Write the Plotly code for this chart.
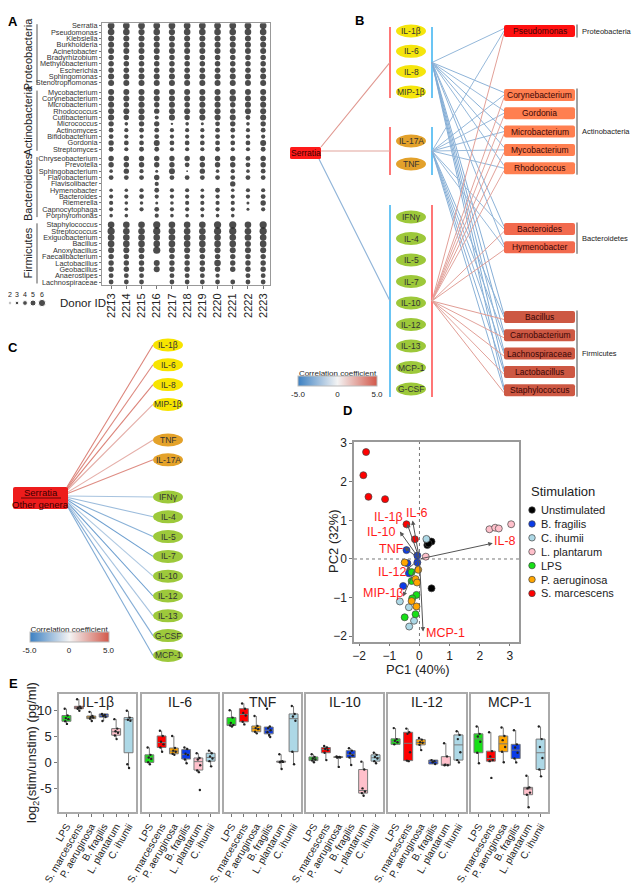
import plotly.graph_objects as go

W, H = 640, 887          # browser window
OFF = 8                  # page body margin of the browser
FW, FH = W - OFF, H - OFF
FONT = "Liberation Sans, Arial, sans-serif"
TXT = "#222222"


def px(x):
    return (x - OFF) / FW


def py(y):
    return 1 - (y - OFF) / FH


# ------------------------------------------------------------------ Panel A data
donors = ["2213", "2214", "2215", "2216", "2217", "2218", "2219", "2220", "2221", "2222", "2223"]
phyla_a = ["Proteobacteria", "Actinobacteria", "Bacteroidetes", "Firmicutes"]
genera_proteobacteria = ["Serratia", "Pseudomonas", "Klebsiella", "Burkholderia", "Acinetobacter",
                         "Bradyrhizobium", "Methylobacterium", "Escherichia", "Sphingomonas", "Stenotrophomonas"]
genera_actinobacteria = ["Mycobacterium", "Corynebacterium", "Microbacterium", "Rhodococcus", "Cutibacterium",
                         "Micrococcus", "Actinomyces", "Bifidobacterium", "Gordonia", "Streptomyces"]
genera_bacteroidetes = ["Chryseobacterium", "Prevotella", "Sphingobacterium", "Flavobacterium", "Flavisolibacter",
                        "Hymenobacter", "Bacteroides", "Riemerella", "Capnocytophaga", "Porphyromonas"]
genera_firmicutes = ["Staphylococcus", "Streptococcus", "Exiguobacterium", "Bacillus", "Anoxybacillus",
                     "Faecalibacterium", "Lactobacillus", "Geobacillus", "Anaerostipes", "Lachnospiraceae"]
N = None
abund_proteobacteria = [
    [5.6, 5.6, 5.6, 5.6, 5.6, 5.6, 5.6, 5.6, 5.6, 5.6, 5.6],
    [5.5, 5.5, 5.2, 5.5, 5.2, 5.5, 5.5, 5.5, 5.5, 5.5, 5.5],
    [5.0, 5.0, 5.0, 5.0, 5.0, 5.0, 5.0, 5.0, 5.0, 5.0, 5.0],
    [5.0, 5.0, 4.8, 5.0, 4.8, 5.0, 5.0, 5.0, 5.0, 5.0, 5.0],
    [5.0, 5.0, 5.0, 5.0, 5.0, 5.0, 5.0, 5.0, 5.0, 5.0, 5.0],
    [4.6, 4.6, 4.6, 4.6, 4.6, 4.6, 4.6, 4.6, 4.6, 4.6, 4.6],
    [4.6, 4.6, 4.6, 4.6, 4.6, 4.6, 4.6, 4.6, 4.6, 4.6, 4.6],
    [4.6, 4.6, 4.6, 4.6, 4.6, 4.6, 4.6, 4.6, 4.6, 4.6, 4.6],
    [5.0, 5.0, 5.0, 5.0, 5.0, 5.0, 5.0, 5.0, 5.0, 5.0, 5.0],
    [5.0, 5.0, 5.0, 5.0, 5.0, 5.0, 5.0, 5.0, 5.0, 5.0, 5.0],
]
abund_actinobacteria = [
    [5.0, 5.0, 5.0, 5.0, 5.0, 5.0, 5.0, 5.0, 5.0, 5.0, 5.0],
    [5.0, 5.0, 5.0, 5.0, 5.0, 5.0, 5.0, 5.0, 5.4, 5.0, 5.0],
    [5.0, 4.5, 5.0, 4.5, 5.0, 4.5, 5.0, 5.0, 4.5, 5.0, 5.0],
    [5.0, 5.0, 5.0, 4.5, 5.0, 5.0, 5.0, 5.0, 4.5, 5.0, 5.0],
    [5.0, 4.5, 5.0, 3.5, 5.0, 4.5, 5.0, 5.0, 5.0, 4.0, 5.0],
    [4.5, 3.0, 4.5, 4.5, 2.0, 3.0, 2.5, 4.0, 4.5, 3.0, 4.5],
    [4.0, 3.5, 4.0, 4.0, 3.5, 3.5, 3.5, 4.0, 4.0, 3.5, 4.0],
    [4.0, 3.5, 3.5, 4.0, 3.5, 3.5, 3.5, 4.0, 3.5, 3.5, 3.5],
    [4.5, 4.0, 4.0, 5.0, 4.0, 4.0, 4.0, 4.0, 4.0, 4.0, 5.0],
    [4.0, 3.5, 4.0, 4.0, 3.5, 3.5, 3.5, 4.0, 3.5, 3.5, 4.0],
]
abund_bacteroidetes = [
    [4.5, 4.5, 4.5, 4.5, 4.5, 4.5, 4.5, 4.5, 4.5, 4.0, 4.5],
    [4.5, 4.5, 4.5, 4.5, 4.5, 4.0, 4.5, 4.5, 4.5, 4.0, 4.5],
    [3.0, 4.5, 3.5, 2.5, 5.0, 1.5, 4.5, 3.0, 3.5, 3.0, 4.0],
    [4.0, 4.0, 4.0, 4.5, 4.0, 4.0, 4.0, 4.0, 4.0, 4.0, 4.0],
    [N, N, N, 3.5, N, N, N, N, 4.5, N, N],
    [3.0, 3.0, 3.5, 4.0, 3.5, 3.5, 3.0, 4.0, 3.0, 3.5, 3.5],
    [3.5, 3.5, 4.0, 3.5, 3.5, 3.5, 3.5, 3.5, 3.5, 3.5, 4.0],
    [3.5, 3.0, 3.0, 2.5, 3.0, 3.5, 3.5, 3.5, 3.5, 2.5, 4.5],
    [3.5, 3.0, 3.5, 4.0, 3.5, 3.5, 3.5, 3.5, 3.5, 2.5, 3.5],
    [3.0, 3.0, N, 3.5, 3.0, 3.0, 3.0, 3.0, 3.0, N, N],
]
abund_firmicutes = [
    [5.5, 5.5, 5.5, 6.0, 5.5, 5.5, 5.5, 6.0, 6.0, 5.5, 6.0],
    [6.0, 5.5, 5.5, 6.0, 5.5, 5.5, 5.5, 6.0, 6.0, 5.5, 6.0],
    [5.5, 5.5, 5.5, 5.5, 5.5, 5.5, 5.5, 5.5, 5.5, 5.5, 5.5],
    [5.5, 5.5, 5.5, 5.5, 5.5, 5.5, 5.5, 5.5, 5.5, 5.0, 5.5],
    [5.0, 5.0, 5.0, 6.0, 5.0, 5.0, 5.0, 5.0, 5.0, 5.0, 5.0],
    [4.5, 4.5, 4.5, N, 4.5, 4.5, 4.5, 4.5, 4.5, 4.5, 4.5],
    [4.5, 4.5, 4.5, 5.0, 4.5, 4.5, 4.5, 5.5, 4.5, 4.5, 4.5],
    [4.5, 4.5, 4.5, 5.0, 4.5, 4.5, 4.5, 4.5, 4.5, 4.5, 4.5],
    [4.0, 4.0, 4.0, N, 4.0, 4.0, 4.0, 3.5, N, 4.0, 4.0],
    [4.0, 4.0, 4.0, N, 4.0, 4.0, 4.0, 4.0, 4.0, 4.0, 4.0],
]
size_legend_values = [2, 3, 4, 5, 6]

# ------------------------------------------------------------------ Panel B data
b_cyt_yellow = ["IL-1β", "IL-6", "IL-8", "MIP-1β"]
b_cyt_orange = ["IL-17A", "TNF"]
b_cyt_green = ["IFNγ", "IL-4", "IL-5", "IL-7", "IL-10", "IL-12", "IL-13", "MCP-1", "G-CSF"]
b_serratia_corr = [3.0, 2.6, -2.8]          # Serratia -> cytokine group
b_bacteria = ["Pseudomonas", "Corynebacterium", "Gordonia", "Microbacterium", "Mycobacterium", "Rhodococcus",
              "Bacteroides", "Hymenobacter",
              "Bacillus", "Carnobacterium", "Lachnospiraceae", "Lactobacillus", "Staphylococcus"]
b_bacteria_phylum = ["Proteobacteria", "Actinobacteria", "Actinobacteria", "Actinobacteria", "Actinobacteria",
                     "Actinobacteria", "Bacteroidetes", "Bacteroidetes",
                     "Firmicutes", "Firmicutes", "Firmicutes", "Firmicutes", "Firmicutes"]
b_corr_yellow = [-2.6, -2.8, -2.5, -2.9, -2.7, -2.6, -2.8, -2.7, -3.0, -3.1, -2.9, -3.2, -3.0]
b_corr_orange = [-2.5, -2.6, -2.4, -2.7, -2.5, -2.6, -2.6, -2.5, -2.9, -2.8, -2.8, -3.0, -2.9]
b_corr_green = [2.7, 2.6, 2.5, 2.6, 2.7, 2.5, 2.6, 2.7, 2.8, 2.6, 2.7, 2.6, 2.8]

# ------------------------------------------------------------------ Panel C data
c_cytokines = ["IL-1β", "IL-6", "IL-8", "MIP-1β", "TNF", "IL-17A",
               "IFNγ", "IL-4", "IL-5", "IL-7", "IL-10", "IL-12", "IL-13", "G-CSF", "MCP-1"]
c_cyt_class = ["y", "y", "y", "y", "o", "o", "g", "g", "g", "g", "g", "g", "g", "g", "g"]
c_corr = [3.6, 3.4, 3.6, 2.3, 2.2, 3.3, -2.1, -2.4, -2.9, -3.7, -1.9, -3.7, -2.1, -3.0, -3.1]

# ------------------------------------------------------------------ Panel D data
stim_groups = ["Unstimulated", "B. fragilis", "C. ihumii", "L. plantarum", "LPS", "P. aeruginosa", "S. marcescens"]
stim_colors = ["#000000", "#0a3be8", "#add8e6", "#ffc0cb", "#17e017", "#ffa500", "#ff0000"]
pc1_unstimulated = [0.25, 0.34, 0.40, 0.26, 0.30, 0.40]
pc2_unstimulated = [0.49, 0.45, 0.45, 0.36, 0.40, -0.76]
pc1_bfragilis = [-0.43, -0.07, -0.40, -0.07, -0.35, -0.54]
pc2_bfragilis = [0.23, 0.09, -0.11, -0.09, -0.37, -0.70]
pc1_cihumii = [0.23, -0.65, -0.35, -0.34, -0.18]
pc2_cihumii = [0.52, -1.10, -1.25, -1.75, -1.60]
pc1_lplantarum = [2.32, 2.51, 2.63, 3.04, 0.21]
pc2_lplantarum = [0.77, 0.81, 0.79, 0.90, 0.06]
pc1_lps = [-0.26, -0.26, -0.10, -0.24, -0.13, -0.49]
pc2_lps = [-0.34, -0.57, -0.93, -1.02, -1.43, -1.51]
pc1_paeruginosa = [-0.49, -0.04, -0.13, -0.08, -0.26, -0.10]
pc2_paeruginosa = [-0.09, -0.28, -0.52, -0.61, -1.09, -1.23]
pc1_smarcescens = [-1.77, -1.86, -1.69, -1.14, -0.43, -0.15]
pc2_smarcescens = [2.77, 2.17, 1.61, 1.55, 0.90, 0.51]
loading_names = ["IL-6", "IL-1β", "IL-10", "TNF", "IL-8", "IL-12", "MIP-1β", "MCP-1"]
loading_pc1 = [-0.23, -0.41, -0.65, -0.50, 2.43, -0.45, -0.54, 0.12]
loading_pc2 = [1.00, 0.92, 0.71, 0.30, 0.41, -0.30, -0.97, -1.88]
loading_label_pc1 = [-0.08, -1.02, -1.25, -0.93, 2.83, -0.90, -1.20, 0.86]
loading_label_pc2 = [1.20, 1.08, 0.70, 0.26, 0.46, -0.33, -0.88, -1.91]

# ------------------------------------------------------------------ Panel E data
e_cytokines = ["IL-1β", "IL-6", "TNF", "IL-10", "IL-12", "MCP-1"]
e_stims = ["LPS", "S. marcescens", "P. aeruginosa", "B. fragilis", "L. plantarum", "C. ihumii"]
e_colors = ["#17e017", "#ff0000", "#ffa500", "#0a3be8", "#ffc0cb", "#add8e6"]
e_lower = [
    [7.4, 9.9, 7.95, 7.95, 4.5, -1.0],
    [-0.3, 2.1, 1.5, -0.1, -1.8, -0.7],
    [6.9, 7.3, 5.6, 4.9, -1.2, -0.3],
    [0.1, 0.5, -0.8, -0.45, -6.3, -0.1],
    [3.5, 0.3, 2.4, -0.25, -0.5, 0.06],
    [-0.1, 0.3, 0.1, 0.06, -8.5, -2.6],
]
e_q1 = [
    [7.9, 10.3, 8.4, 8.7, 5.25, 1.9],
    [0.06, 2.9, 1.7, 0.7, -1.4, 0.3],
    [7.1, 7.8, 5.9, 5.5, 0.1, 2.1],
    [0.4, 1.9, 1.0, 1.0, -5.8, 0.3],
    [3.5, 0.4, 3.4, -0.25, -0.5, 0.5],
    [1.9, 0.3, 2.1, 0.8, -6.1, -1.3],
]
e_median = [
    [8.4, 10.5, 8.65, 9.0, 5.9, 8.2],
    [0.9, 3.85, 2.2, 1.6, 0.2, 1.0],
    [7.3, 9.2, 6.5, 6.2, 0.2, 8.4],
    [0.7, 2.5, 1.05, 1.6, -5.3, 0.95],
    [4.0, 3.7, 3.85, 0.2, -0.45, 3.4],
    [4.55, 0.8, 3.6, 2.4, -5.0, 1.9],
]
e_q3 = [
    [9.0, 10.75, 8.9, 9.3, 6.5, 8.6],
    [1.5, 5.1, 2.8, 2.5, 0.9, 1.8],
    [8.6, 10.3, 7.0, 6.8, 0.3, 9.3],
    [1.1, 2.9, 1.15, 2.3, -1.3, 1.5],
    [4.55, 5.8, 4.4, 0.5, 1.15, 5.3],
    [5.5, 2.2, 5.1, 3.5, -4.7, 4.5],
]
e_upper = [
    [10.3, 12.1, 9.7, 9.3, 8.3, 9.9],
    [2.9, 6.1, 5.1, 2.9, 1.8, 2.3],
    [10.0, 11.3, 8.9, 6.9, 1.6, 10.8],
    [1.6, 3.2, 1.2, 2.75, 0.2, 1.9],
    [6.6, 6.5, 4.7, 0.5, 3.7, 6.0],
    [6.9, 5.8, 6.7, 6.2, -2.5, 6.9],
]
e_points = [
    [[10.3, 9.0, 8.5, 8.3, 7.9, 7.4], [12.1, 10.7, 10.5, 10.4, 10.3, 9.9], [9.7, 8.9, 8.7, 8.6, 8.4, 7.95],
     [9.3, 9.1, 8.9, 8.7, 7.95], [8.3, 6.5, 6.0, 5.7, 5.2, 4.5], [9.9, 8.6, 8.2, 8.0, -0.3, -1.0]],
    [[2.9, 1.5, 1.0, 0.7, 0.1, -0.3], [6.1, 5.1, 4.0, 3.5, 2.9, 2.1], [5.1, 2.8, 2.3, 2.1, 1.7, 1.5],
     [2.9, 2.6, 1.7, 1.5, 0.6, -0.1], [1.8, 0.9, 0.6, -0.5, -1.5, -1.8, -5.2], [2.3, 1.8, 1.2, 0.8, 0.3, -0.7]],
    [[10.0, 8.6, 7.6, 7.2, 7.1, 6.9], [11.3, 10.3, 9.5, 9.0, 7.8, 7.3], [8.9, 7.0, 6.6, 6.4, 5.9, 5.6],
     [10.3, 6.9, 6.6, 6.2, 5.8, 5.3, 4.9], [1.6, 0.3, 0.2, 0.15, 0.1, -1.2], [10.8, 9.3, 8.8, 8.0, 2.1, -0.3]],
    [[1.6, 1.1, 0.8, 0.6, 0.4, 0.1], [3.2, 2.9, 2.6, 2.4, 1.9, 0.5], [1.2, 1.1, 1.05, 1.0, 1.0, -0.8],
     [2.75, 2.3, 1.8, 1.4, 1.0, -0.45], [0.2, -1.3, -4.9, -5.5, -5.8, -6.3], [1.9, 1.5, 1.1, 0.8, 0.3, -0.1]],
    [[6.6, 4.5, 4.2, 3.9, 3.5], [6.5, 5.8, 5.5, 2.0, 0.4, 0.3], [4.7, 4.4, 3.9, 3.8, 3.4, 2.4],
     [0.5, 0.3, 0.1, -0.25], [3.7, 1.2, -0.4, -0.5, -0.5], [6.0, 5.3, 4.5, 2.0, 0.5, 0.06]],
    [[6.9, 5.5, 5.0, 4.0, 1.9, -0.1], [5.8, 2.2, 1.2, 0.5, 0.3, -2.9], [6.7, 5.1, 4.3, 3.0, 2.1, 0.1],
     [6.2, 3.5, 2.9, 1.9, 0.8, 0.06], [-2.5, -4.7, -4.9, -5.7, -6.1, -8.5], [6.9, 4.5, 3.0, 0.9, -1.3, -2.6]],
]
jitter_offsets = [-0.14, 0.09, -0.05, 0.15, -0.1, 0.04, 0.12]

# ------------------------------------------------------------------ helpers
CORR_SCALE = [[0.0, "#3c80c2"], [0.5, "#f4f4f4"], [1.0, "#d2584a"]]


def hex2rgb(h):
    h = h.lstrip("#")
    return tuple(int(h[i:i + 2], 16) for i in (0, 2, 4))


def corr_color(v, vmin=-5, vmax=5):
    t = min(max((v - vmin) / (vmax - vmin), 0), 1)
    for (t0, c0), (t1, c1) in zip(CORR_SCALE[:-1], CORR_SCALE[1:]):
        if t0 <= t <= t1:
            f = (t - t0) / (t1 - t0)
            a, b = hex2rgb(c0), hex2rgb(c1)
            return "rgb(%d,%d,%d)" % tuple(round(a[i] + (b[i] - a[i]) * f) for i in range(3))
    return CORR_SCALE[-1][1]


def rrect(x0, y0, x1, y1, r):
    return (f"M{x0 + r},{y0} L{x1 - r},{y0} Q{x1},{y0} {x1},{y0 + r} L{x1},{y1 - r} Q{x1},{y1} {x1 - r},{y1} "
            f"L{x0 + r},{y1} Q{x0},{y1} {x0},{y1 - r} L{x0},{y0 + r} Q{x0},{y0} {x0 + r},{y0} Z")


fig = go.Figure()
shapes = []
annos = []
CV = dict(xaxis="x9", yaxis="y9", hoverinfo="skip", showlegend=False)


def ctext(x, y, text, size=9, color=TXT, xanchor="center", angle=0, bold=False):
    annos.append(dict(x=x, y=y, xref="x9", yref="y9", text=("<b>%s</b>" % text) if bold else text,
                      showarrow=False, xanchor=xanchor, yanchor="middle", textangle=angle,
                      font=dict(family=FONT, size=size, color=color)))


def cline(xs, ys, color, width=1.0):
    fig.add_trace(go.Scatter(x=xs, y=ys, mode="lines", line=dict(color=color, width=width), **CV))


def colorbar_def(xc, ytop):
    return dict(orientation="h", x=px(xc), xanchor="center", y=py(ytop), yanchor="top", len=79,
                lenmode="pixels", thickness=10, xpad=0, ypad=0, outlinewidth=1, outlinecolor="#bbbbbb",
                tickvals=[-5, 0, 5], ticktext=["-5.0", "0", "5.0"], ticks="",
                tickfont=dict(family=FONT, size=8, color=TXT),
                title=dict(text="Correlation coefficient", side="top", font=dict(family=FONT, size=8, color=TXT)))


# ------------------------------------------------------------------ Panel A
A_L, A_R, A_T, A_B = 102, 270, 23.3, 285
GROUP_STEP = 10.45
A_YR = (-0.38, 3 * GROUP_STEP + 9 + 0.47)
groups_a = [(genera_proteobacteria, abund_proteobacteria), (genera_actinobacteria, abund_actinobacteria),
            (genera_bacteroidetes, abund_bacteroidetes), (genera_firmicutes, abund_firmicutes)]


def dot_size(v):
    return 1.2 * v


ax_, ay_, as_, ytv, ytt = [], [], [], [], []
for g, (gen, ab) in enumerate(groups_a):
    for j, (name, row) in enumerate(zip(gen, ab)):
        ypos = g * GROUP_STEP + j
        ytv.append(ypos)
        ytt.append(name)
        for k, v in enumerate(row):
            if v is None:
                continue
            ax_.append(k)
            ay_.append(ypos)
            as_.append(dot_size(v))
fig.add_trace(go.Scatter(x=ax_, y=ay_, mode="markers", marker=dict(size=as_, color="black", line_width=0),
                         xaxis="x", yaxis="y", hoverinfo="skip", showlegend=False))


def a_ypx(v):
    return A_T + (v - A_YR[0]) / (A_YR[1] - A_YR[0]) * (A_B - A_T)


for g, ph in enumerate(phyla_a):
    t = a_ypx(g * GROUP_STEP) - 1.5
    b = a_ypx(g * GROUP_STEP + 9) + 1.5
    cline([37, 37], [t, b], "#555555", 1)
    ctext(28, (t + b) / 2, ph, size=11, angle=-90)

leg_x = [10, 17, 25, 33, 42]
fig.add_trace(go.Scatter(x=leg_x, y=[303] * 5, mode="markers",
                         marker=dict(size=[dot_size(v) for v in size_legend_values], color="black"), **CV))
for x, v in zip(leg_x, size_legend_values):
    ctext(x, 294, str(v), size=7)
ctext(58, 303, "Donor ID:", size=11.5, xanchor="left")

# ------------------------------------------------------------------ Panel B
RED_LINE, BLUE_LINE = "#ff2d2d", "#1ba6ee"
b_groups = [b_cyt_yellow, b_cyt_orange, b_cyt_green]
b_fill = ["#f5e50c", "#e3a12b", "#9dc83a"]
b_top = [31, 141, 217]
b_step = [20.3, 23.0, 21.5]
b_pad_top = [4, 14, 12]
b_pad_bot = [6, 11, 8]
b_corrs = [b_corr_yellow, b_corr_orange, b_corr_green]
CYX, CRX, CRY = 411, 15, 6.5
LX, RX = 390, 432
bact_group_start = {"Proteobacteria": 31, "Actinobacteria": 95, "Bacteroidetes": 229, "Firmicutes": 317}
bact_fill = {"Proteobacteria": "#ff1010", "Actinobacteria": "#ff7f50", "Bacteroidetes": "#f26a4e",
             "Firmicutes": "#cd5843"}
BSTEP = 18.3
bact_y = []
seen = {}
for ph in b_bacteria_phylum:
    i = seen.get(ph, 0)
    bact_y.append(bact_group_start[ph] + i * BSTEP)
    seen[ph] = i + 1
BX0, BX1 = 504, 575

group_mid = []
edge_mx, edge_my, edge_c = [], [], []
for gi, names in enumerate(b_groups):
    ys = [b_top[gi] + k * b_step[gi] for k in range(len(names))]
    top, bot = ys[0] - b_pad_top[gi], ys[-1] + b_pad_bot[gi]
    mid = (top + bot) / 2
    group_mid.append(mid)
    cline([LX, LX], [top, bot], RED_LINE if b_serratia_corr[gi] > 0 else BLUE_LINE, 1.3)
    cline([RX, RX], [top, bot], RED_LINE if b_corrs[gi][0] > 0 else BLUE_LINE, 1.3)
    for bi, by in enumerate(bact_y):
        c = b_corrs[gi][bi]
        ty = by + (gi - 1) * 2.5
        cline([RX, BX0], [mid, ty], corr_color(c), 1.0)
        edge_mx.append((RX + BX0) / 2)
        edge_my.append((mid + ty) / 2)
        edge_c.append(c)
    for k, (nm, y) in enumerate(zip(names, ys)):
        shapes.append(dict(type="circle", xref="x9", yref="y9", x0=CYX - CRX, x1=CYX + CRX, y0=y - CRY,
                           y1=y + CRY, fillcolor=b_fill[gi], line=dict(width=0), layer="above"))
        ctext(CYX, y, nm, size=8.5, color="#333333")

SX0, SX1, SY0, SY1 = 290, 321, 147, 159
for gi, mid in enumerate(group_mid):
    sy = min(max(mid, SY0), SY1)
    cline([SX1 - (2 if sy == SY1 else 0), LX], [sy, mid], corr_color(b_serratia_corr[gi]), 1.1)
shapes.append(dict(type="path", xref="x9", yref="y9", path=rrect(SX0, SY0, SX1, SY1, 1.5),
                   fillcolor="#ff1a1a", line=dict(width=0), layer="above"))
ctext((SX0 + SX1) / 2, (SY0 + SY1) / 2, "Serratia", size=8.5, color="#3a0000")

for nm, ph, y in zip(b_bacteria, b_bacteria_phylum, bact_y):
    shapes.append(dict(type="path", xref="x9", yref="y9", path=rrect(BX0, y - 6, BX1, y + 6, 2),
                       fillcolor=bact_fill[ph], line=dict(width=0), layer="above"))
    ctext((BX0 + BX1) / 2, y, nm, size=8.5, color="#3a0606")
for ph in ["Proteobacteria", "Actinobacteria", "Bacteroidetes", "Firmicutes"]:
    ys = [y for p, y in zip(b_bacteria_phylum, bact_y) if p == ph]
    t, b = ys[0] - 6.5, ys[-1] + 6.5
    cline([577, 577], [t, b], "#444444", 1)
    ctext(580, (t + b) / 2, ph, size=7.5, xanchor="left")

fig.add_trace(go.Scatter(x=edge_mx, y=edge_my, mode="markers",
                         marker=dict(size=4, opacity=0, color=edge_c, colorscale=CORR_SCALE, cmin=-5, cmax=5,
                                     showscale=True, colorbar=colorbar_def(337.5, 367)), **CV))

# ------------------------------------------------------------------ Panel C
c_fill = {"y": "#f7e400", "o": "#e4a22a", "g": "#9dc93b"}
c_start = {"y": 345, "o": 440, "g": 497}
c_step = 19.8
c_y = []
cnt = {}
for cl in c_cyt_class:
    i = cnt.get(cl, 0)
    c_y.append(c_start[cl] + i * c_step)
    cnt[cl] = i + 1
CCX = 168
CB0, CB1, CBT, CBB = 13, 68, 487, 509
for nm, cl, y, c in zip(c_cytokines, c_cyt_class, c_y, c_corr):
    sy = 496 + (y - 496) * 0.06
    cline([CB1 - 1, CCX - CRX], [sy, y], corr_color(c), 1.1)
for nm, cl, y in zip(c_cytokines, c_cyt_class, c_y):
    shapes.append(dict(type="circle", xref="x9", yref="y9", x0=CCX - CRX, x1=CCX + CRX, y0=y - CRY,
                       y1=y + CRY, fillcolor=c_fill[cl], line=dict(width=0), layer="above"))
    ctext(CCX, y, nm, size=8.5, color="#333333")
shapes.append(dict(type="path", xref="x9", yref="y9", path=rrect(CB0, CBT, CB1, CBB, 2),
                   fillcolor="#ee1c1c", line=dict(width=0), layer="above"))
shapes.append(dict(type="line", xref="x9", yref="y9", x0=21, x1=61, y0=498, y1=498,
                   line=dict(color="#3a0000", width=0.8), layer="above"))
ctext((CB0 + CB1) / 2, 492, "Serratia", size=9.5, color="#3a0000")
ctext((CB0 + CB1) / 2, 504, "Other genera", size=9.5, color="#3a0000")
fig.add_trace(go.Scatter(x=[(CB1 + CCX) / 2] * len(c_y), y=c_y, mode="markers",
                         marker=dict(size=4, opacity=0, color=c_corr, colorscale=CORR_SCALE, cmin=-5, cmax=5,
                                     showscale=True, colorbar=colorbar_def(69, 623)), **CV))

# ------------------------------------------------------------------ Panel D
pcs = [(pc1_unstimulated, pc2_unstimulated), (pc1_bfragilis, pc2_bfragilis), (pc1_cihumii, pc2_cihumii),
       (pc1_lplantarum, pc2_lplantarum), (pc1_lps, pc2_lps), (pc1_paeruginosa, pc2_paeruginosa),
       (pc1_smarcescens, pc2_smarcescens)]
D_XR = [-2.17, 3.3]
D_YR = [-2.15, 3.03]
shapes.append(dict(type="line", xref="x2", yref="y2", x0=0, x1=0, y0=D_YR[0], y1=D_YR[1],
                   line=dict(color="#777777", width=1, dash="dot"), layer="below"))
shapes.append(dict(type="line", xref="x2", yref="y2", x0=D_XR[0], x1=D_XR[1], y0=0, y1=0,
                   line=dict(color="#777777", width=1, dash="dot"), layer="below"))
for (x, y), col in zip(pcs, stim_colors):
    fig.add_trace(go.Scatter(x=x, y=y, mode="markers", xaxis="x2", yaxis="y2", hoverinfo="skip",
                             showlegend=False,
                             marker=dict(size=7, color=col, line=dict(color="#444444", width=0.7))))
for nm, lx, ly, tx, ty in zip(loading_names, loading_pc1, loading_pc2, loading_label_pc1, loading_label_pc2):
    annos.append(dict(x=lx, y=ly, ax=0, ay=0, xref="x2", yref="y2", axref="x2", ayref="y2", text="",
                      showarrow=True, arrowhead=2, arrowsize=0.9, arrowwidth=1, arrowcolor="#555555"))
    annos.append(dict(x=tx, y=ty, xref="x2", yref="y2", text=nm, showarrow=False,
                      font=dict(family=FONT, size=12.5, color="#ff1a1a")))
ctext(418, 669, "PC1 (40%)", size=13)
ctext(333, 541, "PC2 (32%)", size=13, angle=-90)
ctext(529, 491, "Stimulation", size=13, xanchor="left")
leg_y = [510 + 13.9 * i for i in range(len(stim_groups))]
fig.add_trace(go.Scatter(x=[532] * len(leg_y), y=leg_y, mode="markers",
                         marker=dict(size=6.5, color=stim_colors, line=dict(color="#444444", width=0.7)), **CV))
for nm, y in zip(stim_groups, leg_y):
    ctext(539, y, nm, size=11, xanchor="left")

# ------------------------------------------------------------------ Panel E
E_PANELS = [(59, 136), (142, 218), (224, 301), (306, 383), (388, 466), (471, 548)]
E_T, E_B = 694, 812
E_YR = [-9.4, 13.1]
for p, cyt in enumerate(e_cytokines):
    xa, ya = "x%d" % (p + 3), "y%d" % (p + 3)
    for i, stim in enumerate(e_stims):
        fig.add_trace(go.Box(x=[i], q1=[e_q1[p][i]], median=[e_median[p][i]], q3=[e_q3[p][i]],
                             lowerfence=[e_lower[p][i]], upperfence=[e_upper[p][i]], width=0.72,
                             fillcolor=e_colors[i], line=dict(color="#7a7a7a", width=1), whiskerwidth=0,
                             boxpoints=False, xaxis=xa, yaxis=ya, hoverinfo="skip", showlegend=False))
        pts = e_points[p][i]
        fig.add_trace(go.Scatter(x=[i + jitter_offsets[k % len(jitter_offsets)] for k in range(len(pts))],
                                 y=pts, mode="markers", marker=dict(size=2.4, color="#222222"),
                                 xaxis=xa, yaxis=ya, hoverinfo="skip", showlegend=False))
    x0, x1 = E_PANELS[p]
    ctext((x0 + x1) / 2, 702, cyt, size=14)
ctext(32, 753, "log<sub>2</sub>(stim/unstim) (pg/ml)", size=13, angle=-90)

for letter, x, y in [("A", 13, 21), ("B", 359, 20), ("C", 13, 347), ("D", 347, 410), ("E", 13, 683)]:
    ctext(x, y, letter, size=13, bold=True, color="#000000")

# ------------------------------------------------------------------ layout
layout = dict(
    width=FW, height=FH, margin=dict(l=0, r=0, t=0, b=0, autoexpand=False), paper_bgcolor="white",
    plot_bgcolor="rgba(0,0,0,0)", font=dict(family=FONT, color=TXT), showlegend=False,
    xaxis=dict(domain=[px(A_L), px(A_R)], range=[-0.6, 10.45], tickvals=list(range(len(donors))),
               ticktext=donors, tickangle=-90, tickfont=dict(size=11, color=TXT), ticks="outside", ticklen=3,
               tickcolor="#777777", showline=True, mirror=True, linecolor="#999999", linewidth=1,
               showgrid=False, zeroline=False, anchor="y"),
    yaxis=dict(domain=[py(A_B), py(A_T)], range=[A_YR[1], A_YR[0]], tickvals=ytv, ticktext=ytt,
               tickfont=dict(size=7.3, color="#333333"), ticks="outside", ticklen=2, tickcolor="#777777",
               showline=True, mirror=True, linecolor="#999999", linewidth=1, showgrid=False, zeroline=False,
               anchor="x"),
    xaxis2=dict(domain=[px(354), px(519)], range=D_XR, tickvals=[-2, -1, 0, 1, 2, 3],
                tickfont=dict(size=12, color=TXT), ticks="outside", ticklen=2, tickcolor="#777777",
                showline=True, mirror=True, linecolor="#999999", linewidth=1.5, showgrid=False,
                zeroline=False, anchor="y2"),
    yaxis2=dict(domain=[py(642), py(442)], range=D_YR, tickvals=[-2, -1, 0, 1, 2, 3],
                tickfont=dict(size=12, color=TXT), ticks="outside", ticklen=3, tickcolor="#777777",
                showline=True, mirror=True, linecolor="#999999", linewidth=1.5, showgrid=False,
                zeroline=False, anchor="x2"),
    xaxis9=dict(domain=[0, 1], range=[OFF, W], visible=False, fixedrange=True, anchor="y9"),
    yaxis9=dict(domain=[0, 1], range=[H, OFF], visible=False, fixedrange=True, anchor="x9"),
    shapes=shapes, annotations=annos,
)
for p in range(6):
    x0, x1 = E_PANELS[p]
    layout["xaxis%d" % (p + 3)] = dict(domain=[px(x0), px(x1)], range=[-0.6, 5.6], tickvals=list(range(6)),
                                       ticktext=e_stims, tickangle=-60, tickfont=dict(size=10, color=TXT),
                                       ticks="outside", ticklen=3, tickcolor="#777777", showline=True,
                                       mirror=True, linecolor="#aaaaaa", linewidth=1.5, showgrid=False,
                                       zeroline=False, anchor="y%d" % (p + 3), automargin=False)
    layout["yaxis%d" % (p + 3)] = dict(domain=[py(E_B), py(E_T)], range=E_YR, tickvals=[-5, 0, 5, 10],
                                       ticktext=["-5", "0", "5", "10"], showticklabels=(p == 0),
                                       ticks="outside" if p == 0 else "", ticklen=3, tickcolor="#777777",
                                       tickfont=dict(size=13, color=TXT), showline=True, mirror=True,
                                       linecolor="#aaaaaa", linewidth=1.5, showgrid=False, zeroline=False,
                                       anchor="x%d" % (p + 3), automargin=False)
fig.update_layout(**layout)
fig.write_html("out.html")
